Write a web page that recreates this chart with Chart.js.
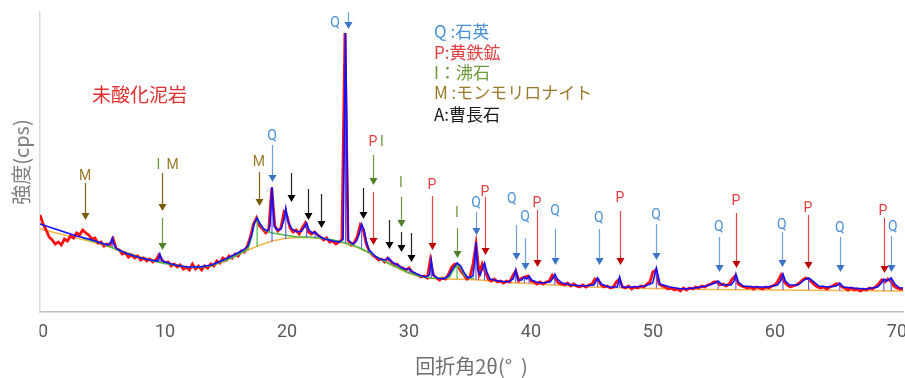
<!DOCTYPE html>
<html>
<head>
<meta charset="utf-8">
<script src="https://cdn.jsdelivr.net/npm/chart.js@4.4.0/dist/chart.umd.min.js"></script>
<style>
  html, body { margin: 0; padding: 0; background: #fff; }
  #wrap { width: 905px; height: 378px; }
</style>
</head>
<body>
<div id="wrap"><canvas id="xrd" width="905" height="378"></canvas></div>
<script>
// XRD pattern of unoxidised mudstone — measured scan, fit, backgrounds, phase markers

// raw scan: 2θ from scanStart in steps of scanStep
var scanStart = -0.25, scanStep = 0.25;
var rawCps = [
  97,88,82,75,72,68,70,67,73,71,76,74,79,77,82,79,77,73,74,69,
  70,66,68,67,73,63,62,58,59,55,57,54,56,52,54,51,53,50,52,57,
  52,49,50,46,48,45,47,43,45,42,48,43,46,42,46,44,48,46,51,49,
  54,52,56,54,58,56,61,60,66,75,88,94,86,83,79,82,124,86,81,84,
  100,96,84,80,82,78,84,89,80,78,80,77,75,72,74,70,71,68,70,72,
  279,72,67,69,75,87,82,68,61,57,55,52,53,50,54,51,47,48,45,44,
  42,44,40,38,37,35,36,34,52,37,34,32,34,33,38,45,48,47,41,37,
  33,35,48,68,38,48,40,33,31,33,30,31,29,31,30,36,41,31,34,35,
  36,31,30,28,30,28,30,31,37,33,29,28,27,29,26,28,26,25,27,25,
  27,28,33,32,27,25,26,24,25,30,33,25,24,26,23,25,24,26,25,28,
  30,40,42,28,26,25,23,24,22,23,21,24,22,24,23,25,24,26,25,27,
  28,30,30,27,28,26,28,33,36,28,26,25,24,25,23,25,24,23,25,24,
  26,27,31,37,30,27,25,26,27,29,32,34,33,30,27,25,24,25,23,25,
  26,28,28,25,24,22,24,22,23,21,23,22,24,23,25,28,32,30,33,31,
  26,24,23,23
];

// fitted profile [2θ, cps]
var fitCurve = [
  [-0.25,88],[0.75,84],[1.75,80],[2.75,76],[3.75,73],[4.75,69],[5.35,67],[5.55,70],[5.67,74],[5.8,68],
  [6.05,63],[6.75,59],[7.75,55],[8.75,52],[9.4,51],[9.58,58],[9.78,51],[10.8,47],[11.8,45],[12.8,45],
  [13.8,47],[14.8,52],[15.8,58],[16.4,62],[16.8,66],[17.1,77],[17.3,88],[17.55,94],[17.8,88],[18.1,83],
  [18.4,81],[18.6,86],[18.77,125],[18.95,86],[19.2,82],[19.5,83],[19.75,92],[19.9,104],[20.1,90],[20.4,83],
  [20.8,80],[21.2,81],[21.42,85],[21.61,89],[21.8,82],[22.1,79],[22.3,80],[22.6,76],[23.1,73],[23.8,71],
  [24.3,70],[24.6,73],[24.8,279],[25.02,72],[25.4,68],[25.7,71],[25.92,78],[26.12,88],[26.32,82],[26.52,70],
  [26.72,62],[26.92,60],[27.2,56],[27.6,53],[28.0,52],[28.32,54],[28.62,50],[28.92,48],[29.12,47],[29.42,44],
  [29.72,43],[30.03,43],[30.33,40],[30.83,37],[31.33,35],[31.68,37],[31.83,52],[31.98,37],[32.33,34],[32.83,33],
  [33.23,36],[33.63,44],[33.94,49],[34.24,46],[34.54,39],[34.84,34],[35.24,36],[35.39,50],[35.49,70],[35.64,42],
  [35.84,37],[36.04,44],[36.19,49],[36.39,40],[36.64,33],[37.34,31],[38.14,30],[38.54,33],[38.75,42],[38.94,32],
  [39.24,32],[39.45,35],[39.64,33],[39.85,36],[40.05,32],[40.45,30],[40.86,29],[41.56,30],[41.81,34],[41.96,38],
  [42.16,33],[42.56,29],[43.36,27],[44.36,26],[45.16,27],[45.47,34],[45.76,28],[46.36,25],[47.07,25],[47.27,35],
  [47.47,25],[48.37,25],[49.37,26],[49.98,29],[50.28,44],[50.58,28],[51.38,25],[52.38,23],[53.38,24],[54.38,26],
  [55.09,29],[55.34,31],[55.69,27],[56.4,27],[56.65,31],[56.8,38],[57.0,30],[57.4,26],[58.4,25],[59.4,25],
  [60.2,27],[60.46,31],[60.66,38],[60.86,31],[61.2,27],[61.9,27],[62.4,32],[62.76,34],[63.1,31],[63.6,26],
  [64.4,25],[65.02,26],[65.32,29],[65.62,25],[66.42,24],[67.43,23],[68.43,25],[68.73,29],[68.93,33],[69.18,31],
  [69.53,34],[69.83,28],[70.23,24],[70.5,24]
];

// background incl. amorphous hump [2θ, cps]
var humpCurve = [
  [3.25,74],[3.75,72],[4.75,69],[5.75,64],[6.75,59],[7.75,55],[8.75,52],[9.75,49],[10.8,47],[11.8,45],
  [12.8,44.5],[13.8,46.5],[14.8,51],[15.8,56],[16.4,60],[16.8,63],[17.1,75],[17.3,88],[17.55,94],[17.75,89],
  [18.0,84],[18.3,81],[18.8,79],[19.3,78],[19.8,77],[20.3,76],[20.8,75],[21.8,75],[22.8,74],[23.8,72],
  [24.8,69],[25.8,65],[26.8,59],[27.8,52],[28.8,46],[29.83,40],[30.83,36],[31.83,34],[32.83,33.5],[33.33,35],
  [33.63,42],[33.94,47],[34.24,44],[34.54,37],[34.84,34],[35.33,33.5]
];

// base line [2θ, cps]
var baseCurve = [
  [-0.25,83],[1.75,77],[3.75,71],[5.75,64],[7.75,56],[9.75,50],[11.75,45],[12.75,44],[13.75,46],[14.8,50],
  [15.8,56],[16.8,62],[17.8,67],[18.8,71],[19.8,73.5],[20.8,74.5],[21.8,74.5],[22.8,73.5],[23.8,71.5],[24.8,68.5],
  [25.8,64.5],[26.8,58.5],[27.8,51.5],[28.8,45.5],[29.83,39.5],[30.83,35.5],[31.83,33.5],[32.83,33],[34.83,32.5],[35.83,32],
  [37.85,29.5],[39.85,28.5],[41.85,27],[44.85,25],[49.88,23.5],[54.88,22.5],[59.9,22],[64.9,21.5],[69.9,21],[70.5,21]
];

// peak sticks [2θ, from, to]
var fitSticks = [
  [5.67,65,74],[9.58,50,58],[18.77,70,125],[19.9,73,104],[21.61,75,89],[22.3,74,80],[24.8,69,279],[26.12,64,88],
  [26.72,59,62],[28.32,50,54],[29.12,45,47],[30.03,39,43],[31.83,34,52],[35.49,32,70],[36.19,32,49],[38.75,29.5,42],
  [39.45,29,35],[39.85,28.5,36],[41.96,27,38],[45.47,25,34],[47.27,24.5,35],[50.28,23.5,44],[55.34,22.5,31],
  [56.8,22.5,38],[60.66,22,38],[62.76,22,34],[65.32,21.5,29],[68.93,21,33],[69.53,21,34]
];
var humpSticks = [[17.55,65,94],[33.94,33,47]];

// phase arrows [2θ, phase, from, tip]
var arrows = [
  [3.44,"M",129,92],[9.73,"M",139,101],[9.73,"I",94,62],[17.70,"M",140,106],[18.77,"Q",167,130],
  [20.33,"A",139,110],[21.72,"A",123,92],[22.79,"A",118,84],[25.0,"Q",300,283],[26.23,"A",124,93],
  [27.05,"I",157,127],[27.05,"P",120,67],[28.36,"A",92,63],[29.34,"I",115,85],[29.34,"A",80,60],
  [30.16,"A",79,50],[31.89,"P",116,62],[33.93,"I",84,54],[35.49,"Q",100,77],[36.23,"P",115,57],
  [38.77,"Q",87,52],[39.51,"Q",74,42],[40.49,"P",102,45],[41.97,"Q",83,47],[45.57,"Q",83,47],
  [47.30,"P",101,47],[50.25,"Q",88,52],[55.41,"Q",75,40],[56.80,"P",99,44],[60.57,"Q",80,45],
  [62.70,"P",97,43],[65.33,"Q",75,40],[68.93,"P",94,39],[69.51,"Q",76,40]
];

// letters above arrows [text, 2θ, cps, phase]
var arrowLabels = [
  ["M",3.44,136,"M"],["I",9.45,147,"I"],["M",10.63,147,"M"],["M",17.70,150,"M"],["Q",18.77,176,"Q"],
  ["Q",23.93,289,"Q"],["P",27.05,170,"P"],["I",27.79,170,"I"],["I",29.34,129,"I"],["P",31.89,127,"P"],
  ["I",33.93,99,"I"],["Q",35.49,109,"Q"],["P",36.23,120,"P"],["Q",38.44,113,"Q"],["Q",39.51,95,"Q"],
  ["P",40.49,109,"P"],["Q",41.97,101,"Q"],["Q",45.57,94,"Q"],["P",47.30,114,"P"],["Q",50.25,97,"Q"],
  ["Q",55.41,85,"Q"],["P",56.80,111,"P"],["Q",60.57,87,"Q"],["P",62.70,104,"P"],["Q",65.33,84,"Q"],
  ["P",68.85,101,"P"],["Q",69.67,85,"Q"]
];

var phaseKey = [
  ["Q :石英", "Q", 280],
  ["P:黄鉄鉱", "P", 259],
  ["I：沸石", "I", 239],
  ["M :モンモリロナイト", "M", 219],
  ["A:曹長石", "A", 197]
];
var sampleName = ["未酸化泥岩", 4.02, 217];
var keyAt = 32.05;
var xTicks = [0, 10, 20, 30, 40, 50, 60, 70];

var phaseStyle = {
  Q: { text: "#4a90d9", line: "#6f9fe0", head: "#3b73c8" },
  P: { text: "#e04040", line: "#e04848", head: "#c00000" },
  I: { text: "#6a9a3a", line: "#6a9a40", head: "#4f7f2a" },
  M: { text: "#9a7a2a", line: "#7f6010", head: "#7a5a0a" },
  A: { text: "#1a1a1a", line: "#222222", head: "#000000" }
};

function sticksToLine(list) {
  var out = [];
  list.forEach(function(s) { out.push([s[0], s[1]], [s[0], s[2]], [s[0], null]); });
  return out;
}

var scanPoints = rawCps.map(function(v, i) { return [scanStart + i * scanStep, v]; });

var annotate = {
  id: "annotate",
  afterDatasetsDraw: function(chart) {
    var c = chart.ctx, xs = chart.scales.x, ys = chart.scales.y;
    c.save();
    arrows.forEach(function(a) {
      var st = phaseStyle[a[1]];
      var x = Math.round(xs.getPixelForValue(a[0])) + 0.5;
      var y0 = ys.getPixelForValue(a[2]), y1 = ys.getPixelForValue(a[3]);
      c.strokeStyle = st.line; c.lineWidth = 1.2;
      c.beginPath(); c.moveTo(x, y0); c.lineTo(x, y1 - 6); c.stroke();
      c.fillStyle = st.head;
      c.beginPath(); c.moveTo(x - 4, y1 - 7); c.lineTo(x + 4, y1 - 7); c.lineTo(x, y1); c.closePath(); c.fill();
    });
    c.font = "14px Roboto, 'Liberation Sans', sans-serif";
    c.textAlign = "center"; c.textBaseline = "middle";
    arrowLabels.forEach(function(l) {
      c.fillStyle = phaseStyle[l[3]].text;
      c.fillText(l[0], xs.getPixelForValue(l[1]), ys.getPixelForValue(l[2]));
    });
    c.textAlign = "left";
    c.font = "17px 'Noto Sans CJK JP', sans-serif";
    phaseKey.forEach(function(k) {
      c.fillStyle = phaseStyle[k[1]].text;
      c.fillText(k[0], xs.getPixelForValue(keyAt), ys.getPixelForValue(k[2]));
    });
    c.font = "19px 'Noto Sans CJK JP', sans-serif";
    c.fillStyle = "#e03030";
    c.fillText(sampleName[0], xs.getPixelForValue(sampleName[1]), ys.getPixelForValue(sampleName[2]));
    c.restore();
  },
  afterDraw: function(chart) {
    // the first tick label is clipped by the plot edge in the original
    var c = chart.ctx;
    c.save(); c.fillStyle = "#fff";
    c.fillRect(0, chart.chartArea.bottom + 2, chart.chartArea.left - 0.5, 30);
    c.restore();
  }
};

new Chart(document.getElementById("xrd").getContext("2d"), {
  type: "line",
  data: {
    datasets: [
      { label: "fit", data: fitCurve, borderColor: "#1010ff", borderWidth: 1.6 },
      { label: "fit sticks", data: sticksToLine(fitSticks), borderColor: "#4a4aff", borderWidth: 1, spanGaps: false },
      { label: "hump", data: humpCurve, borderColor: "#4cb848", borderWidth: 1.6 },
      { label: "hump sticks", data: sticksToLine(humpSticks), borderColor: "#4cb848", borderWidth: 1.2, spanGaps: false },
      { label: "scan", data: scanPoints, borderColor: "#ff1010", borderWidth: 2.8 },
      { label: "base", data: baseCurve, borderColor: "#f7b44a", borderWidth: 1.6 }
    ]
  },
  options: {
    responsive: false,
    animation: false,
    layout: { padding: { top: 12, right: 2, left: 0, bottom: 0 } },
    elements: { point: { radius: 0 }, line: { tension: 0, fill: false } },
    plugins: { legend: { display: false }, tooltip: { enabled: false } },
    scales: {
      x: {
        type: "linear", min: -0.25, max: 70.5,
        grid: { display: false, drawTicks: false },
        border: { color: "#bfbfbf", width: 1.5 },
        ticks: { color: "#595959", font: { family: "Roboto", size: 18 }, padding: 10, maxRotation: 0 },
        afterBuildTicks: function(s) { s.ticks = xTicks.map(function(v) { return { value: v }; }); },
        afterFit: function(s) { s.height = 66; s.paddingLeft = 0; s.paddingRight = 0; },
        title: { display: true, text: "回折角2θ(°  )", color: "#6f6f6f",
                 font: { family: "'Noto Sans CJK JP'", size: 20 }, padding: { top: 0, bottom: 0 } }
      },
      y: {
        min: 0, max: 300,
        grid: { display: false, drawTicks: false },
        border: { color: "#d9d9d9", width: 1.5 },
        ticks: { display: false },
        afterFit: function(s) { s.width = 40; },
        title: { display: true, text: "強度(cps)", color: "#7f7f7f",
                 font: { family: "'Noto Sans CJK JP'", size: 20 }, padding: { top: 9, bottom: 0 } }
      }
    }
  },
  plugins: [annotate]
});
</script>
</body>
</html>
